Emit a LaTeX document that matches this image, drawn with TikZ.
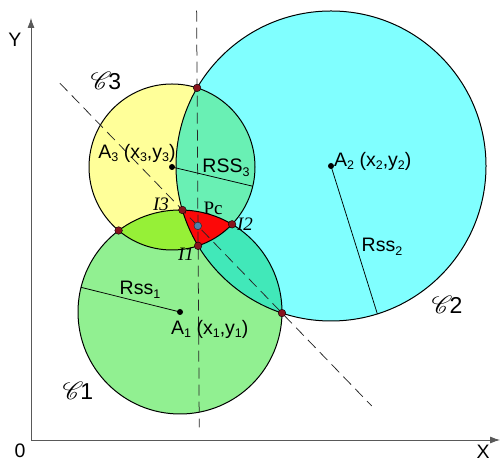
\documentclass[tikz,border=0pt]{standalone}
\usepackage{fontspec}
\setmainfont{Liberation Sans}
\newfontfamily\timesfont{Liberation Serif}
\usepackage{mathrsfs}
\usetikzlibrary{calc,arrows.meta}
\definecolor{cirgreen}{RGB}{145,240,145}
\definecolor{circyan}{RGB}{128,255,255}
\definecolor{ciryellow}{RGB}{255,255,153}
\definecolor{lensonethree}{RGB}{150,240,55}
\definecolor{lenstwothree}{RGB}{105,240,180}
\definecolor{lensonetwo}{RGB}{65,232,185}
\definecolor{tripred}{RGB}{252,8,8}
\definecolor{dotred}{RGB}{135,20,30}
\definecolor{pcblue}{RGB}{80,130,170}
\newcommand{\idx}[1]{\raisebox{-0.35ex}{\fontsize{12.5}{13}\selectfont#1}}
\newcommand{\scrC}[1]{{\fontsize{25}{27}\selectfont$\mathscr{C}$}\kern-3pt{\fontsize{23}{25}\selectfont#1}}

\begin{document}
\begin{tikzpicture}[x=1pt,y=1pt,
    lbl/.style={font=\fontsize{19.5}{21}\selectfont, inner sep=0pt},
    ptlbl/.style={font=\fontsize{19}{21}\selectfont\timesfont, inner sep=0pt},
    dashline/.style={dash pattern=on 11pt off 6pt, line width=0.75pt, black!85},
    axisline/.style={line width=0.8pt, black!65, -{Latex[length=10pt,width=7pt]}},
    rim/.style={line width=1pt, black},
    radline/.style={line width=0.75pt, black}]
  \useasboundingbox (0,0) rectangle (502,462);
  % centres and crossing points
  \coordinate (A1) at (180,150);
  \coordinate (A2) at (331,296);
  \coordinate (A3) at (172,295);
  \coordinate (ptop) at (197.1,374.1);
  \coordinate (pleft) at (118.6,231.5);
  \coordinate (pbot) at (282.0,148.9);
  \coordinate (i1) at (198.1,216.2);
  \coordinate (i2) at (232.1,237.7);
  \coordinate (i3) at (182.4,252.0);
  \coordinate (pc) at (197.8,236.1);
  \coordinate (O) at (31,22);

  % axes
  \draw[axisline] (O) -- (31,444);
  \draw[axisline] (O) -- (500,22);
  \node[lbl] (ylab) at (15,422) {Y};
  \node[lbl] (olab) at (20,11) {0};
  \node[lbl] (xlab) at (483,10) {X};

  % discs
  \fill[cirgreen] (A1) circle(102);
  \fill[circyan] (A2) circle(155);
  \fill[ciryellow] (A3) circle(83);
  \begin{scope}
    \clip (A1) circle(102);
    \fill[lensonethree] (A3) circle(83);
    \fill[lensonetwo] (A2) circle(155);
  \end{scope}
  \begin{scope}
    \clip (A3) circle(83);
    \fill[lenstwothree] (A2) circle(155);
    \clip (A1) circle(102);
    \fill[tripred] (A2) circle(155);
  \end{scope}
  \draw[rim] (A1) circle(102);
  \draw[rim] (A2) circle(155);
  \draw[rim] (A3) circle(83);

  % radical axes
  \draw[dashline] ($(ptop)!-0.49!(i1)$) -- ($(ptop)!2.15!(i1)$);
  \draw[dashline] ($(i3)!-1.23!(pbot)$) -- ($(i3)!1.9!(pbot)$);

  % radii
  \draw[radline] (A1) -- ($(A1)+(166:102)$);
  \draw[radline] (A2) -- ($(A2)+(-72.6:155)$);
  \draw[radline] (A3) -- ($(A3)+(-13.4:83)$);

  % points
  \fill (A1) circle(3);
  \fill (A2) circle(3);
  \fill (A3) circle(3);
  \foreach \p in {ptop,pleft,pbot,i1,i2,i3}
    \filldraw[fill=dotred, draw=black, line width=0.4pt] (\p) circle(3.8);
  \filldraw[fill=pcblue, draw=black!80, line width=0.6pt] (pc) circle(3.8);

  % labels
  \node[lbl] (c3lab) at (106,381) {\scrC{3}};
  \node[lbl] (c2lab) at (447,157) {\scrC{2}};
  \node[lbl] (c1lab) at (78,71) {\scrC{1}};
  \node[lbl] (a3lab) at (137,309) {A\idx{3} (x\idx{3},y\idx{3})};
  \node[lbl, anchor=west] (a2lab) at (334,301) {A\idx{2} (x\idx{2},y\idx{2})};
  \node[lbl, anchor=west] (a1lab) at (171,133) {A\idx{1} (x\idx{1},y\idx{1})};
  \node[lbl] (r3lab) at (226,294) {RSS\idx{3}};
  \node[lbl] (r2lab) at (382,215) {Rss\idx{2}};
  \node[lbl] (r1lab) at (140,172) {Rss\idx{1}};
  \node[ptlbl] (i3lab) at (161,258) {\itshape I3};
  \node[ptlbl] (i2lab) at (245,238) {\itshape I2};
  \node[ptlbl] (i1lab) at (186,208) {\itshape I1};
  \node[ptlbl] (pclab) at (213,254) {Pc};
\end{tikzpicture}
\end{document}
